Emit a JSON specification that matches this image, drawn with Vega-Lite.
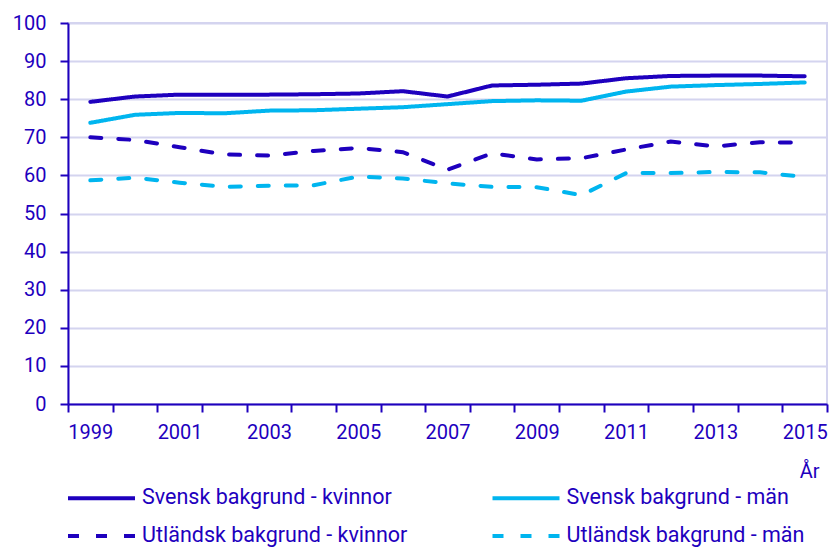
{
  "$schema": "https://vega.github.io/schema/vega-lite/v6.json",
  "width": 759,
  "height": 381,
  "autosize": "none",
  "padding": {"left": 68, "top": 23, "right": 3, "bottom": 144},
  "background": "white",
  "config": {
    "font": "Roboto",
    "view": {"stroke": "#d4d4ef", "strokeWidth": 2},
    "axis": {
      "labelFont": "Roboto",
      "labelFontSize": 20,
      "labelColor": "#1e00be",
      "domainColor": "#1e00be",
      "domainWidth": 2,
      "tickColor": "#1e00be",
      "tickWidth": 2,
      "tickSize": 8,
      "gridColor": "#d4d4ef",
      "gridWidth": 2,
      "titleColor": "#1e00be",
      "titleFont": "Roboto",
      "titleFontSize": 20,
      "titleFontWeight": "normal"
    }
  },
  "data": {
    "values": [
      {"year": 1999, "series": "Svensk bakgrund - kvinnor", "value": 79.3},
      {"year": 2000, "series": "Svensk bakgrund - kvinnor", "value": 80.7},
      {"year": 2001, "series": "Svensk bakgrund - kvinnor", "value": 81.2},
      {"year": 2002, "series": "Svensk bakgrund - kvinnor", "value": 81.2},
      {"year": 2003, "series": "Svensk bakgrund - kvinnor", "value": 81.2},
      {"year": 2004, "series": "Svensk bakgrund - kvinnor", "value": 81.3},
      {"year": 2005, "series": "Svensk bakgrund - kvinnor", "value": 81.5},
      {"year": 2006, "series": "Svensk bakgrund - kvinnor", "value": 82.1},
      {"year": 2007, "series": "Svensk bakgrund - kvinnor", "value": 80.7},
      {"year": 2008, "series": "Svensk bakgrund - kvinnor", "value": 83.6},
      {"year": 2009, "series": "Svensk bakgrund - kvinnor", "value": 83.8},
      {"year": 2010, "series": "Svensk bakgrund - kvinnor", "value": 84.1},
      {"year": 2011, "series": "Svensk bakgrund - kvinnor", "value": 85.5},
      {"year": 2012, "series": "Svensk bakgrund - kvinnor", "value": 86.1},
      {"year": 2013, "series": "Svensk bakgrund - kvinnor", "value": 86.2},
      {"year": 2014, "series": "Svensk bakgrund - kvinnor", "value": 86.2},
      {"year": 2015, "series": "Svensk bakgrund - kvinnor", "value": 86.0},
      {"year": 1999, "series": "Svensk bakgrund - män", "value": 73.8},
      {"year": 2000, "series": "Svensk bakgrund - män", "value": 75.9},
      {"year": 2001, "series": "Svensk bakgrund - män", "value": 76.4},
      {"year": 2002, "series": "Svensk bakgrund - män", "value": 76.3},
      {"year": 2003, "series": "Svensk bakgrund - män", "value": 77.0},
      {"year": 2004, "series": "Svensk bakgrund - män", "value": 77.1},
      {"year": 2005, "series": "Svensk bakgrund - män", "value": 77.5},
      {"year": 2006, "series": "Svensk bakgrund - män", "value": 77.9},
      {"year": 2007, "series": "Svensk bakgrund - män", "value": 78.7},
      {"year": 2008, "series": "Svensk bakgrund - män", "value": 79.5},
      {"year": 2009, "series": "Svensk bakgrund - män", "value": 79.7},
      {"year": 2010, "series": "Svensk bakgrund - män", "value": 79.6},
      {"year": 2011, "series": "Svensk bakgrund - män", "value": 82.0},
      {"year": 2012, "series": "Svensk bakgrund - män", "value": 83.3},
      {"year": 2013, "series": "Svensk bakgrund - män", "value": 83.7},
      {"year": 2014, "series": "Svensk bakgrund - män", "value": 84.0},
      {"year": 2015, "series": "Svensk bakgrund - män", "value": 84.4},
      {"year": 1999, "series": "Utländsk bakgrund - kvinnor", "value": 70.0},
      {"year": 2000, "series": "Utländsk bakgrund - kvinnor", "value": 69.3},
      {"year": 2001, "series": "Utländsk bakgrund - kvinnor", "value": 67.4},
      {"year": 2002, "series": "Utländsk bakgrund - kvinnor", "value": 65.5},
      {"year": 2003, "series": "Utländsk bakgrund - kvinnor", "value": 65.2},
      {"year": 2004, "series": "Utländsk bakgrund - kvinnor", "value": 66.4},
      {"year": 2005, "series": "Utländsk bakgrund - kvinnor", "value": 67.2},
      {"year": 2006, "series": "Utländsk bakgrund - kvinnor", "value": 66.1},
      {"year": 2007, "series": "Utländsk bakgrund - kvinnor", "value": 61.5},
      {"year": 2008, "series": "Utländsk bakgrund - kvinnor", "value": 65.8},
      {"year": 2009, "series": "Utländsk bakgrund - kvinnor", "value": 64.2},
      {"year": 2010, "series": "Utländsk bakgrund - kvinnor", "value": 64.5},
      {"year": 2011, "series": "Utländsk bakgrund - kvinnor", "value": 66.8},
      {"year": 2012, "series": "Utländsk bakgrund - kvinnor", "value": 68.9},
      {"year": 2013, "series": "Utländsk bakgrund - kvinnor", "value": 67.6},
      {"year": 2014, "series": "Utländsk bakgrund - kvinnor", "value": 68.7},
      {"year": 2015, "series": "Utländsk bakgrund - kvinnor", "value": 68.6},
      {"year": 1999, "series": "Utländsk bakgrund - män", "value": 58.7},
      {"year": 2000, "series": "Utländsk bakgrund - män", "value": 59.4},
      {"year": 2001, "series": "Utländsk bakgrund - män", "value": 58.1},
      {"year": 2002, "series": "Utländsk bakgrund - män", "value": 57.0},
      {"year": 2003, "series": "Utländsk bakgrund - män", "value": 57.3},
      {"year": 2004, "series": "Utländsk bakgrund - män", "value": 57.4},
      {"year": 2005, "series": "Utländsk bakgrund - män", "value": 59.7},
      {"year": 2006, "series": "Utländsk bakgrund - män", "value": 59.2},
      {"year": 2007, "series": "Utländsk bakgrund - män", "value": 57.9},
      {"year": 2008, "series": "Utländsk bakgrund - män", "value": 57.0},
      {"year": 2009, "series": "Utländsk bakgrund - män", "value": 56.9},
      {"year": 2010, "series": "Utländsk bakgrund - män", "value": 54.8},
      {"year": 2011, "series": "Utländsk bakgrund - män", "value": 60.6},
      {"year": 2012, "series": "Utländsk bakgrund - män", "value": 60.6},
      {"year": 2013, "series": "Utländsk bakgrund - män", "value": 60.9},
      {"year": 2014, "series": "Utländsk bakgrund - män", "value": 60.8},
      {"year": 2015, "series": "Utländsk bakgrund - män", "value": 59.6}
    ]
  },
  "mark": {"type": "line", "strokeWidth": 4, "strokeCap": "round"},
  "encoding": {
    "x": {
      "field": "year",
      "type": "ordinal",
      "scale": {"type": "band", "paddingInner": 0, "paddingOuter": 0},
      "axis": {
        "grid": false,
        "tickBand": "extent",
        "labelAngle": 0,
        "labelOverlap": false,
        "labelPadding": 10,
        "labelExpr": "datum.value % 2 == 1 ? datum.label : ''",
        "title": "År",
        "titleAnchor": "end",
        "titleAlign": "right",
        "titleX": 751,
        "titleY": 73,
        "titleBaseline": "alphabetic"
      }
    },
    "y": {
      "field": "value",
      "type": "quantitative",
      "scale": {"domain": [0, 100]},
      "axis": {
        "values": [0, 10, 20, 30, 40, 50, 60, 70, 80, 90, 100],
        "labelPadding": 14,
        "title": null,
        "grid": true
      }
    },
    "color": {
      "field": "series",
      "type": "nominal",
      "scale": {
        "domain": ["Svensk bakgrund - kvinnor", "Svensk bakgrund - män", "Utländsk bakgrund - kvinnor", "Utländsk bakgrund - män"],
        "range": ["#1e00be", "#00b5ef", "#1e00be", "#00b5ef"]
      },
      "legend": {
        "orient": "none",
        "direction": "horizontal",
        "legendX": 21.5,
        "legendY": 463,
        "columns": 2,
        "title": null,
        "symbolType": "M-3.35,0H3.35",
        "symbolSize": 400,
        "symbolStrokeWidth": 4,
        "labelFont": "Roboto",
        "labelFontSize": 21.5,
        "labelColor": "#1e00be",
        "labelOffset": 28.5,
        "labelLimit": 400,
        "columnPadding": 76.5,
        "rowPadding": 15,
        "padding": 0
      }
    },
    "strokeDash": {
      "field": "series",
      "type": "nominal",
      "scale": {
        "domain": ["Svensk bakgrund - kvinnor", "Svensk bakgrund - män", "Utländsk bakgrund - kvinnor", "Utländsk bakgrund - män"],
        "range": [[1, 0], [1, 0], [11, 17], [11, 17]]
      }
    }
  }
}
